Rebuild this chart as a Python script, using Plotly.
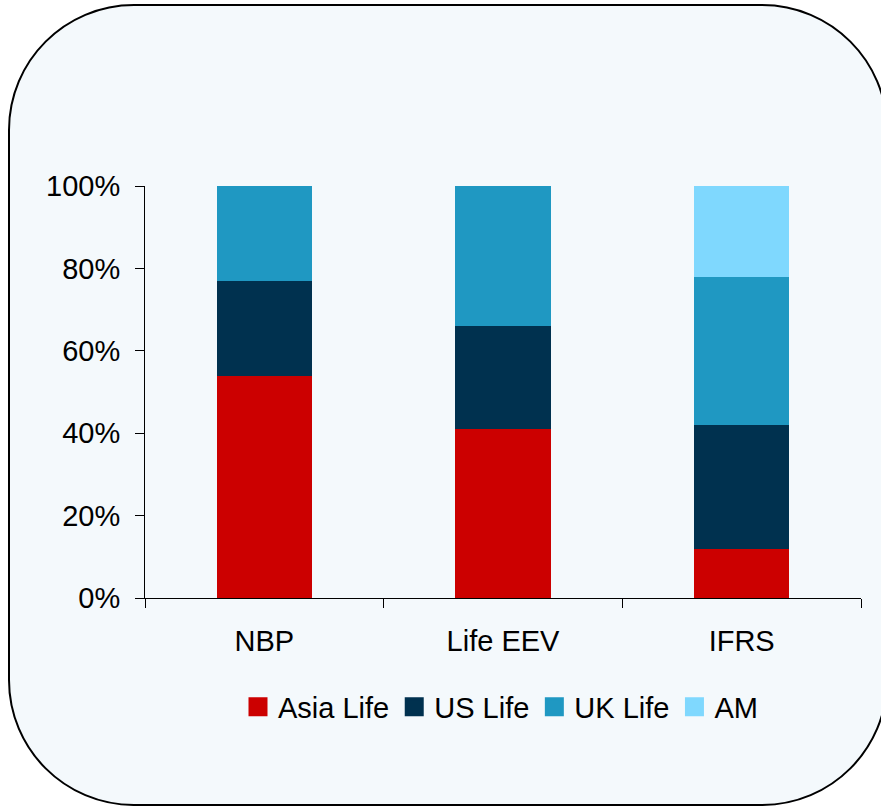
import plotly.graph_objects as go

categories = ["NBP", "Life EEV", "IFRS"]
series_names = ["Asia Life", "US Life", "UK Life", "AM"]
asia_life = [54, 41, 12]
us_life = [23, 25, 30]
uk_life = [23, 34, 36]
am = [0, 0, 22]
series_values = [asia_life, us_life, uk_life, am]
colors = ["#CC0000", "#00314F", "#1F98C2", "#7FD8FE"]
y_ticks = [0, 20, 40, 60, 80, 100]
y_tick_labels = ["0%", "20%", "40%", "60%", "80%", "100%"]

W, H = 881, 806
ML, MR, MT, MB = 145, 20, 186, 208
PW, PH = W - ML - MR, H - MT - MB

def px(x):
    return (x - ML) / PW

def py(y):
    return (H - MB - y) / PH

# rounded rectangle in pixel coords
L, T, R, B, r = 9, 5, 887, 805, 125
k = 0.5523 * r
pts = [
    ("M", [(L + r, T)]),
    ("L", [(R - r, T)]),
    ("C", [(R - r + k, T), (R, T + r - k), (R, T + r)]),
    ("L", [(R, B - r)]),
    ("C", [(R, B - r + k), (R - r + k, B), (R - r, B)]),
    ("L", [(L + r, B)]),
    ("C", [(L + r - k, B), (L, B - r + k), (L, B - r)]),
    ("L", [(L, T + r)]),
    ("C", [(L, T + r - k), (L + r - k, T), (L + r, T)]),
]
path = ""
for cmd, ps in pts:
    path += cmd + " ".join(f"{px(a):.5f},{py(b):.5f}" for a, b in ps) + " "
path += "Z"

fig = go.Figure()
for name, vals, col in zip(series_names, series_values, colors):
    fig.add_trace(go.Bar(x=categories, y=vals, name=name, marker_color=col,
                         marker_line_width=0, width=0.4, showlegend=False,
                         hoverinfo="skip"))
for name, col in zip(series_names, colors):
    fig.add_trace(go.Scatter(x=[None], y=[None], mode="markers", name=name,
                             marker=dict(symbol="square", size=16, color=col,
                                         line=dict(color=col, width=3))))

fig.update_layout(
    width=W, height=H,
    margin=dict(l=ML, r=MR, t=MT, b=MB, autoexpand=False),
    barmode="stack",
    paper_bgcolor="white",
    plot_bgcolor="rgba(0,0,0,0)",
    font=dict(family="Liberation Sans, Arial, sans-serif", size=29, color="black"),
    shapes=[dict(type="path", xref="paper", yref="paper", path=path,
                 fillcolor="#F4F9FC", line=dict(color="black", width=2), layer="below")],
    legend=dict(orientation="h", traceorder="normal", x=px(238), xanchor="left",
                y=py(707), yanchor="middle",
                bgcolor="rgba(0,0,0,0)", font=dict(size=29), itemclick=False),
    showlegend=True,
    hovermode=False,
)
fig.update_xaxes(range=[-0.5, 2.5], showline=True, linecolor="black", linewidth=1,
                 ticks="outside", tickson="boundaries", ticklen=9, tickcolor="black",
                 showgrid=False, ticklabelstandoff=17, fixedrange=True)
fig.update_yaxes(range=[0, 100], tickvals=y_ticks, ticktext=y_tick_labels, showline=True,
                 linecolor="black", linewidth=1, ticks="outside", ticklen=9,
                 tickcolor="black", showgrid=False, zeroline=False,
                 ticklabelstandoff=9, fixedrange=True)

fig.write_html("out.html", config={"displayModeBar": False},
               post_script="document.body.style.margin='0';document.body.style.overflow='hidden';")
